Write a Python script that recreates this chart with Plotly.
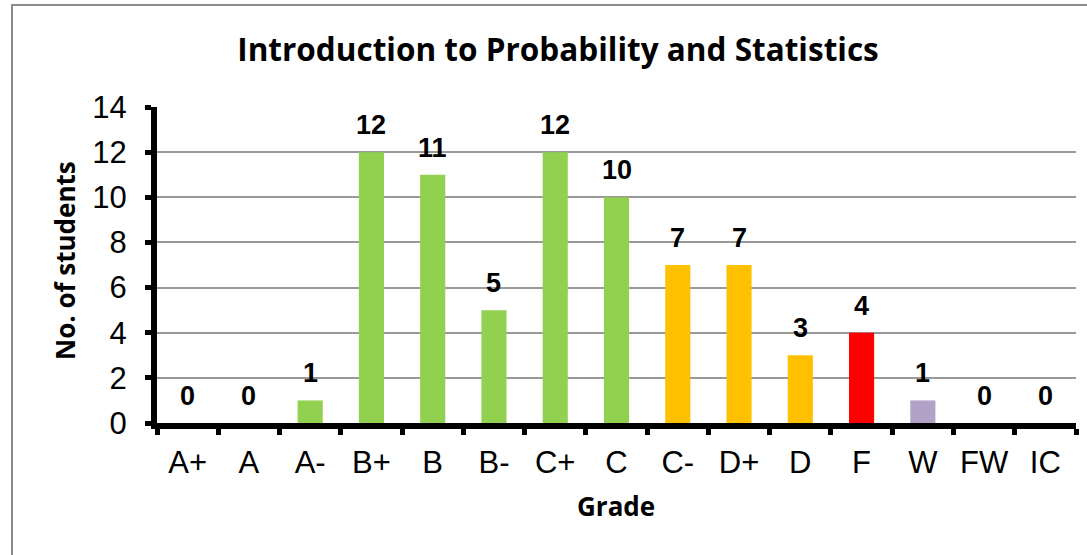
import plotly.graph_objects as go

grades = ["A+", "A", "A-", "B+", "B", "B-", "C+", "C", "C-", "D+", "D", "F", "W", "FW", "IC"]
students = [0, 0, 1, 12, 11, 5, 12, 10, 7, 7, 3, 4, 1, 0, 0]
bar_colors = ["#92D050"] * 8 + ["#FFC000"] * 3 + ["#FF0000", "#B3A2C7", "#92D050", "#92D050"]

W, H = 1087, 555
L, R, T, B = 157, 11, 107, 132
pw, ph = W - L - R, H - T - B

fig = go.Figure()
fig.add_trace(go.Bar(x=grades, y=students, marker=dict(color=bar_colors, line=dict(width=0)),
                     hoverinfo="skip"))

for g, v in zip(grades, students):
    fig.add_annotation(x=g, y=v, text=str(v), showarrow=False, yanchor="bottom", yshift=10,
                       font=dict(family="Liberation Sans", size=27, color="black", weight="bold"))

# axis titles placed as annotations
fig.add_annotation(xref="paper", yref="paper", x=(616 - L) / pw, y=-(506 - (H - B)) / ph,
                   text="<b>Grade</b>", showarrow=False, xanchor="center", yanchor="middle",
                   font=dict(family="Open Sans", size=26, color="black"))
fig.add_annotation(xref="paper", yref="paper", x=(65 - L) / pw, y=((H - B) - 261) / ph,
                   text="<b>No. of students</b>", showarrow=False, textangle=-90,
                   xanchor="center", yanchor="middle",
                   font=dict(family="Open Sans", size=26, color="black"))

fig.update_layout(
    width=W, height=H,
    margin=dict(l=L, r=R, t=T, b=B),
    paper_bgcolor="white", plot_bgcolor="white",
    bargap=0.59,
    showlegend=False,
    title=dict(text="<b>Introduction to Probability and Statistics</b>", x=558 / W, xanchor="center",
               xref="container", y=1 - 50 / H, yanchor="middle",
               font=dict(family="Open Sans", size=31.5, color="black")),
    xaxis=dict(type="category", tickson="boundaries", ticks="outside", ticklen=6, tickwidth=5,
               tickcolor="black", showline=True, linecolor="black", linewidth=6,
               tickfont=dict(family="Liberation Sans", size=31, color="black"),
               tickangle=0, ticklabelstandoff=7,
               showgrid=False, fixedrange=True),
    yaxis=dict(range=[0, 14], dtick=2, ticks="outside", ticklen=6, tickwidth=5, tickcolor="black",
               showline=True, linecolor="black", linewidth=6, showgrid=True, gridcolor="#999999",
               gridwidth=2, zeroline=False,
               tickfont=dict(family="Liberation Sans", size=31, color="black"),
               ticklabelstandoff=12,
               fixedrange=True),
)

fig.add_shape(type="rect", xref="paper", yref="paper",
              x0=(12 - L) / pw, x1=(W + 20 - L) / pw,
              y0=-(H + 20 - T - ph) / ph, y1=(H - B - 5) / ph,
              line=dict(color="#8C8C8C", width=2), fillcolor="rgba(0,0,0,0)", layer="below")

fig.write_html("out.html", config={"displayModeBar": False},
               post_script="document.body.style.margin='0';")
